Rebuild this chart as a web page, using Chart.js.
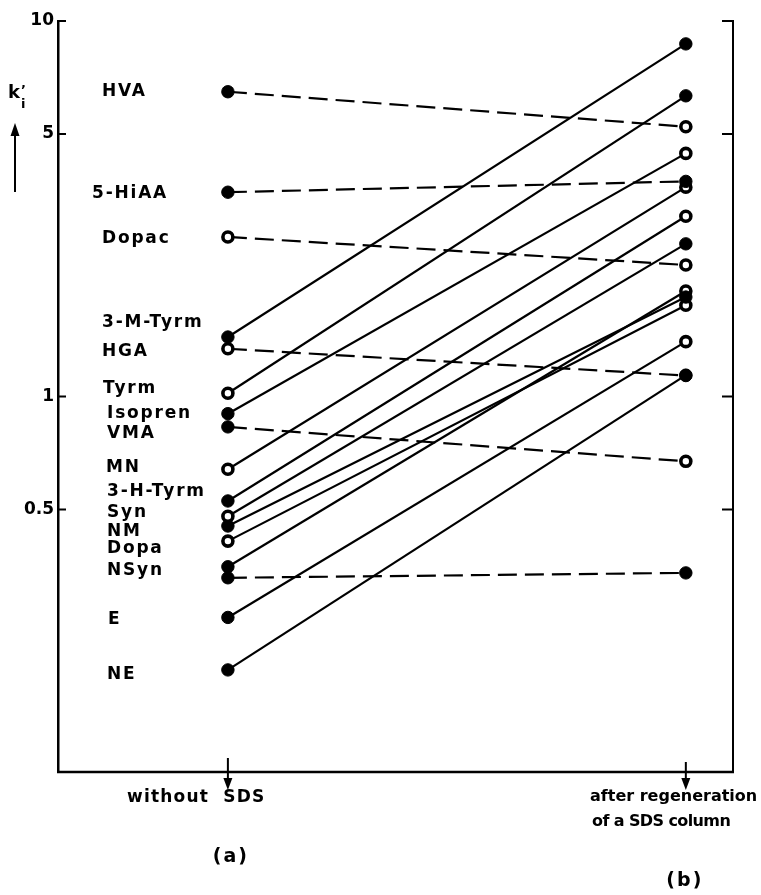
<!DOCTYPE html>
<html>
<head>
<meta charset="utf-8">
<script src="https://cdn.jsdelivr.net/npm/chart.js@4/dist/chart.umd.min.js"></script>
<style>
  html, body { margin: 0; padding: 0; background: #fff; }
  #wrap { width: 761px; height: 895px; }
</style>
</head>
<body>
<div id="wrap"><canvas id="c" width="761" height="895"></canvas></div>
<script>
// Capacity factors k'_i of the compounds on the column without SDS (a)
// and after regeneration of a SDS column (b).
const compounds = ['HVA', '5-HiAA', 'Dopac', '3-M-Tyrm', 'HGA', 'Tyrm', 'Isopren', 'VMA',
  'MN', '3-H-Tyrm', 'Syn', 'NM', 'Dopa', 'NSyn', '', 'E', 'NE'];
const withoutSDS = [6.48, 3.50, 2.66, 1.44, 1.34, 1.02, 0.90, 0.83,
  0.64, 0.527, 0.48, 0.452, 0.412, 0.352, 0.329, 0.258, 0.187];
const afterRegeneration = [5.23, 3.74, 2.24, 8.69, 1.137, 6.32, 4.44, 0.672,
  3.61, 3.02, 2.55, 1.84, 1.75, 1.91, 0.339, 1.40, 1.14];
// compounds whose retention is not raised by SDS (drawn dashed)
const unaffected = [true, true, true, false, true, false, false, true,
  false, false, false, false, false, false, true, false, false];
const tickValues = [0.5, 1, 5, 10];
const tickLabels = ['0.5', '1', '5', '10'];

// marker look: ring (open) or solid dot, per end
const ringA = [false, false, true, false, true, true, false, false,
  true, false, true, false, true, false, false, false, false];
const ringB = [true, false, true, false, false, false, true, true,
  true, true, false, false, true, true, false, true, false];

// where each compound name is written: [left px, k' level]
const namePlacement = [[102, 6.47], [92, 3.48], [102, 2.64], [102, 1.57], [102, 1.32], [103, 1.047],
  [107, 0.898], [107, 0.795], [106, 0.645], [107, 0.557], [107, 0.49], [107, 0.438], [107, 0.393],
  [107, 0.343], null, [108, 0.255], [107, 0.182]];

const FONT = '"DejaVu Sans", "Liberation Sans", sans-serif';

const datasets = compounds.map((name, i) => ({
  label: name,
  data: [{ x: 0, y: withoutSDS[i] }, { x: 1, y: afterRegeneration[i] }],
  borderColor: '#000',
  borderWidth: 2.2,
  borderDash: unaffected[i] ? [19, 8] : [],
  fill: false,
  tension: 0,
  pointRadius: [ringA[i] ? 5 : 6.2, ringB[i] ? 5 : 6.2],
  pointBorderWidth: [ringA[i] ? 3.6 : 1, ringB[i] ? 3.6 : 1],
  pointBackgroundColor: [ringA[i] ? '#fff' : '#000', ringB[i] ? '#fff' : '#000'],
  pointBorderColor: '#000'
}));

function arrowDown(ctx, x, y0, y1) {
  ctx.beginPath();
  ctx.moveTo(x, y0);
  ctx.lineTo(x, y1 - 10);
  ctx.stroke();
  ctx.beginPath();
  ctx.moveTo(x - 4.5, y1 - 12);
  ctx.lineTo(x + 4.5, y1 - 12);
  ctx.lineTo(x, y1);
  ctx.closePath();
  ctx.fill();
}

const decorations = {
  id: 'decorations',
  afterDraw(chart) {
    const ctx = chart.ctx;
    const area = chart.chartArea;
    const y = chart.scales.y;
    const x = chart.scales.x;
    ctx.save();
    ctx.strokeStyle = '#000';
    ctx.fillStyle = '#000';

    // bottom axis
    ctx.lineWidth = 2.5;
    ctx.beginPath();
    ctx.moveTo(area.left - 1, area.bottom);
    ctx.lineTo(area.right + 1, area.bottom);
    ctx.stroke();

    // inward tick marks on both vertical axes
    ctx.lineWidth = 2;
    tickValues.forEach(v => {
      const py = y.getPixelForValue(v);
      ctx.beginPath();
      ctx.moveTo(area.left, py);
      ctx.lineTo(area.left + 8, py);
      ctx.moveTo(area.right, py);
      ctx.lineTo(area.right - 11, py);
      ctx.stroke();
    });

    // compound names
    ctx.font = 'bold 17px ' + FONT;
    ctx.letterSpacing = '1.8px';
    ctx.textAlign = 'left';
    ctx.textBaseline = 'middle';
    namePlacement.forEach((p, i) => {
      if (!p || !compounds[i]) return;
      ctx.fillText(compounds[i], p[0], y.getPixelForValue(p[1]));
    });
    ctx.letterSpacing = '0px';

    // axis title k'_i with upward arrow
    ctx.textBaseline = 'alphabetic';
    ctx.font = 'bold 18px ' + FONT;
    ctx.fillText('k', 8, 98);
    ctx.font = 'bold 13px ' + FONT;
    ctx.fillText('\u2019', 21, 94);
    ctx.fillText('i', 21, 108);
    ctx.lineWidth = 2;
    ctx.beginPath();
    ctx.moveTo(15, 192);
    ctx.lineTo(15, 134);
    ctx.stroke();
    ctx.beginPath();
    ctx.moveTo(10.5, 136);
    ctx.lineTo(19.5, 136);
    ctx.lineTo(15, 123);
    ctx.closePath();
    ctx.fill();

    // column markers below the axis
    const xa = x.getPixelForValue(0);
    const xb = x.getPixelForValue(1);
    ctx.lineWidth = 2;
    arrowDown(ctx, xa, area.bottom - 14, area.bottom + 18);
    arrowDown(ctx, xb, area.bottom - 10, area.bottom + 18);

    ctx.textBaseline = 'middle';
    ctx.textAlign = 'left';
    ctx.font = 'bold 17px ' + FONT;
    ctx.letterSpacing = '1.2px';
    ctx.fillText('without  SDS', 127, 798);
    ctx.font = 'bold 16px ' + FONT;
    ctx.letterSpacing = '0px';
    ctx.fillText('after regeneration', 590, 797);
    ctx.letterSpacing = '-0.6px';
    ctx.fillText('of a SDS column', 592, 822);
    ctx.textAlign = 'center';
    ctx.font = 'bold 19px ' + FONT;
    ctx.letterSpacing = '2px';
    ctx.fillText('(a)', xa + 3, 857);
    ctx.fillText('(b)', xb - 1, 881);
    ctx.restore();
  }
};

new Chart(document.getElementById('c'), {
  type: 'line',
  data: { datasets },
  options: {
    responsive: false,
    devicePixelRatio: 1,
    animation: false,
    layout: { padding: { top: 21, bottom: 123, left: 0, right: 0 } },
    plugins: { legend: { display: false }, tooltip: { enabled: false } },
    scales: {
      x: { type: 'linear', min: -0.371, max: 1.103, display: false },
      y: {
        type: 'logarithmic', position: 'left', min: 0.1, max: 10,
        afterFit(s) { s.width = 58; },
        afterBuildTicks(s) { s.ticks = tickValues.map(v => ({ value: v })); },
        ticks: {
          color: '#000', padding: 4,
          font: { family: FONT, size: 17, weight: 'bold' },
          callback: (v) => tickLabels[tickValues.indexOf(v)] ?? ''
        },
        grid: { display: false, drawTicks: false },
        border: { display: true, color: '#000', width: 2.5 }
      },
      y2: {
        type: 'logarithmic', position: 'right', min: 0.1, max: 10,
        afterFit(s) { s.width = 28; },
        ticks: { display: false },
        grid: { display: false, drawTicks: false },
        border: { display: true, color: '#000', width: 2 }
      }
    }
  },
  plugins: [decorations]
});
</script>
</body>
</html>
